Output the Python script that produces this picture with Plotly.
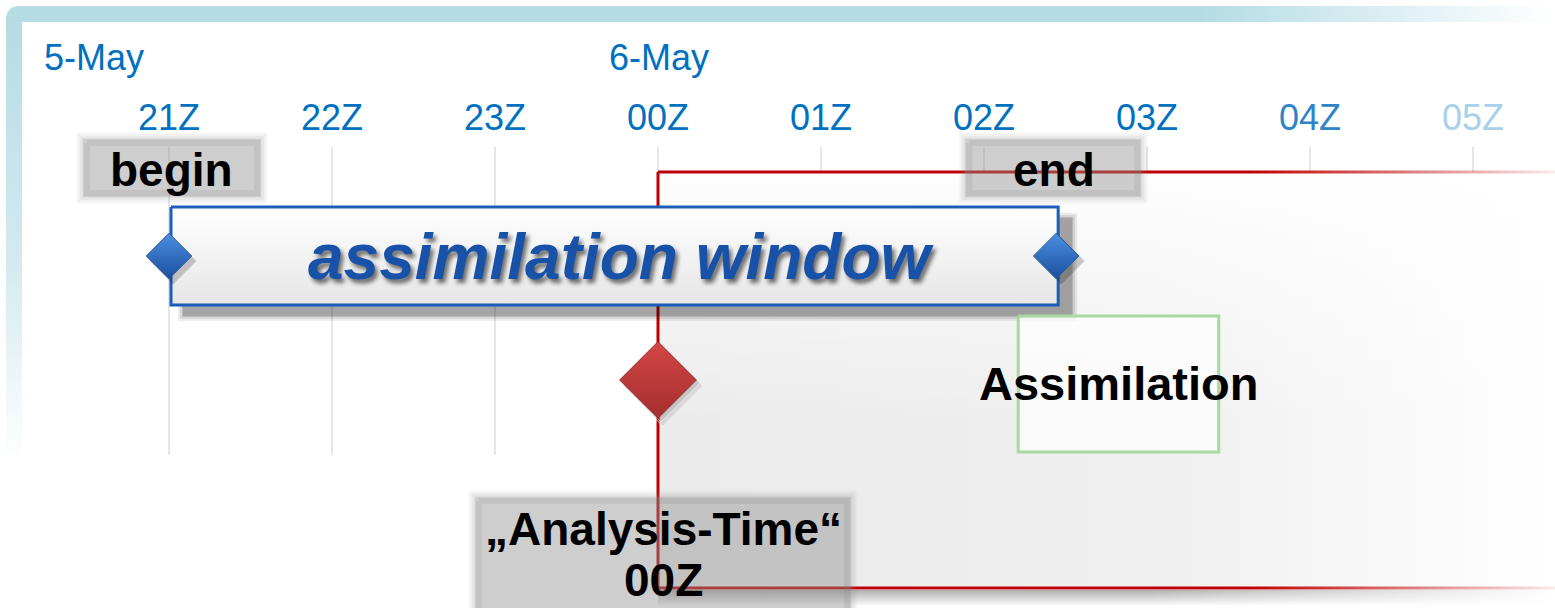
import plotly.graph_objects as go

# time axis in hours relative to the analysis time (00Z, 6 May)
HOURS = [-3, -2, -1, 0, 1, 2, 3, 4, 5]
HOUR_LABELS = ["21Z", "22Z", "23Z", "00Z", "01Z", "02Z", "03Z", "04Z", "05Z"]
DATE_LABELS = ["5-May", "6-May"]
DATE_HOURS = [-3.78, -0.31]

WINDOW_BEGIN = -3.0
WINDOW_END = 2.455
ANALYSIS_TIME = 0.0
ANALYSIS_LABEL = ["\u201eAnalysis-Time\u201c", "00Z"]
ASSIM_START = 2.21
ASSIM_END = 3.44

WIDTH, HEIGHT = 1555, 608
PX_PER_HOUR = 163.0
ZERO_PX = 658.0
X_RANGE = [-ZERO_PX / PX_PER_HOUR, (WIDTH - ZERO_PX) / PX_PER_HOUR]

BLUE = "#0070C0"
RED = "#C00000"
FRAME = "#B5DCE5"
FONT = "Liberation Sans, Arial, sans-serif"
HOUR_COLORS = [BLUE] * 7 + ["#2F84C8", "#A9D0EA"]


def px(n):
    """pixel length -> hours"""
    return n / PX_PER_HOUR


def at(xp):
    """pixel column -> hours"""
    return (xp - ZERO_PX) / PX_PER_HOUR


def rect(x0, x1, y0, y1):
    return [x0, x1, x1, x0, x0], [y0, y0, y1, y1, y0]


def solid(x0, x1, y0, y1, color):
    xs, ys = rect(x0, x1, y0, y1)
    return go.Scatter(x=xs, y=ys, fill="toself", fillcolor=color, mode="none",
                      hoverinfo="skip", showlegend=False)


def outline(x0, x1, y0, y1, color, width):
    xs, ys = rect(x0, x1, y0, y1)
    return go.Scatter(x=xs, y=ys, mode="lines", line=dict(color=color, width=width),
                      hoverinfo="skip", showlegend=False)


def gradient(xs, ys, kind, scale, start, stop):
    return go.Scatter(x=xs, y=ys, fill="toself", mode="none",
                      fillgradient=dict(type=kind, colorscale=scale, start=start, stop=stop),
                      hoverinfo="skip", showlegend=False)


def soft_box(xc, half_w, y0, y1):
    # blurred grey plate: soft halo, light core, darker rim
    out = []
    for grow, alpha in [(7, 0.05), (5, 0.07), (3, 0.09), (1, 0.1)]:
        out.append(solid(xc - half_w - px(grow), xc + half_w + px(grow),
                         y0 - grow, y1 + grow, f"rgba(140,140,140,{alpha})"))
    out.append(solid(xc - half_w, xc + half_w, y0, y1, "rgba(150,150,150,0.22)"))
    out.append(outline(xc - half_w + px(4), xc + half_w - px(4), y0 + 4, y1 - 4,
                       "rgba(120,120,120,0.14)", 6))
    return out


traces = []

# light blue frame, rounded outer corner top-left
corner = [(6, 22), (6, 18), (7, 13), (9.5, 9.5), (13, 7), (18, 6), (WIDTH, 6), (WIDTH, 22), (6, 22)]
traces.append(gradient([at(p[0]) for p in corner], [p[1] for p in corner], "horizontal",
                       [[0, FRAME], [1, "#ffffff"]], at(1200), X_RANGE[1]))
xs, ys = rect(at(6), at(22), 21, 462)
traces.append(gradient(xs, ys, "vertical",
                       [[0, FRAME], [0.55, "#d3eaf0"], [1, "#ffffff"]], 21, 462))

# hour grid
gx, gy = [], []
for h in HOURS:
    gx += [h, h, None]
    gy += [147, 455, None]
traces.append(go.Scatter(x=gx, y=gy, mode="lines", line=dict(color="#dedede", width=1.5),
                         hoverinfo="skip", showlegend=False))

# shaded period after the analysis time
xs, ys = rect(ANALYSIS_TIME, X_RANGE[1], 172, 588)
traces.append(gradient(xs, ys, "horizontal",
                       [[0, "#ebebeb"], [0.55, "#efefef"], [1, "#ffffff"]], ANALYSIS_TIME, X_RANGE[1]))
traces.append(gradient(xs, ys, "vertical",
                       [[0, "rgba(255,255,255,0.92)"], [0.6, "rgba(255,255,255,0)"],
                        [1, "rgba(255,255,255,0)"]], 172, 588))
xs, ys = rect(ANALYSIS_TIME, X_RANGE[1], 590, 606)
traces.append(gradient(xs, ys, "vertical",
                       [[0, "rgba(110,110,110,0.55)"], [1, "rgba(110,110,110,0)"]], 590, 606))
xs, ys = rect(at(1150), X_RANGE[1], 590, 608)
traces.append(gradient(xs, ys, "horizontal",
                       [[0, "rgba(255,255,255,0)"], [1, "rgba(255,255,255,1)"]], at(1150), X_RANGE[1]))

# analysis time lines
traces.append(go.Scatter(x=[ANALYSIS_TIME, ANALYSIS_TIME], y=[172, 588], mode="lines",
                         line=dict(color=RED, width=3), hoverinfo="skip", showlegend=False))
for yl in (172, 588):
    xs, ys = rect(ANALYSIS_TIME, X_RANGE[1], yl - 1.5, yl + 1.5)
    traces.append(gradient(xs, ys, "horizontal",
                           [[0, RED], [0.66, RED], [1, "rgba(192,0,0,0.08)"]], ANALYSIS_TIME, X_RANGE[1]))

# assimilation window box with shadow
for grow, alpha in [(5, 0.07), (3, 0.09), (1, 0.12), (0, 0.12)]:
    traces.append(solid(WINDOW_BEGIN + px(14 - grow), WINDOW_END + px(14 + grow),
                        218 - grow, 316 + grow, f"rgba(0,0,0,{alpha})"))
xs, ys = rect(WINDOW_BEGIN + px(2), WINDOW_END, 207, 305)
traces.append(gradient(xs, ys, "vertical", [[0, "#ffffff"], [1, "#e6e6e6"]], 207, 305))
traces.append(outline(WINDOW_BEGIN + px(2), WINDOW_END, 207, 305, "#1A5EB8", 3))

# assimilation step
traces.append(solid(ASSIM_START, ASSIM_END, 316, 452, "rgba(255,255,255,0.7)"))
traces.append(outline(ASSIM_START, ASSIM_END, 316, 452, "#A9D8A2", 3))

# diamonds
traces.append(go.Scatter(x=[WINDOW_BEGIN + px(4), WINDOW_END + px(3)], y=[261, 261], mode="markers",
                         marker=dict(symbol="diamond", size=36, color="rgba(0,0,0,0.2)"),
                         hoverinfo="skip", showlegend=False))
traces.append(go.Scatter(x=[WINDOW_BEGIN, WINDOW_END - px(2)], y=[256, 256], mode="markers",
                         marker=dict(symbol="diamond", size=35, color="#4A8FE2",
                                     gradient=dict(type="vertical", color="#1C4F9E"),
                                     line=dict(color="#2A5AA0", width=1)),
                         hoverinfo="skip", showlegend=False))
traces.append(go.Scatter(x=[ANALYSIS_TIME + px(3), ANALYSIS_TIME + px(5)], y=[383, 386], mode="markers",
                         marker=dict(symbol="diamond", size=[60, 62], color="rgba(0,0,0,0.12)"),
                         hoverinfo="skip", showlegend=False))
traces.append(go.Scatter(x=[ANALYSIS_TIME], y=[380], mode="markers",
                         marker=dict(symbol="diamond", size=59, color="#D44646",
                                     gradient=dict(type="vertical", color="#A42E2E"),
                                     line=dict(color="#8E2A2A", width=1)),
                         hoverinfo="skip", showlegend=False))

# grey label plates
traces += soft_box(WINDOW_BEGIN + px(3), px(89), 139, 197)
traces += soft_box(WINDOW_END - px(5), px(88), 139, 197)
traces += soft_box(ANALYSIS_TIME + px(5), px(188), 497, 620)

fig = go.Figure(data=traces)

annotations = []
for label, h in zip(DATE_LABELS, DATE_HOURS):
    annotations.append(dict(x=h, y=57, text=label, xanchor="left", yanchor="middle",
                            font=dict(family=FONT, size=36, color=BLUE)))
for label, h, c in zip(HOUR_LABELS, HOURS, HOUR_COLORS):
    annotations.append(dict(x=h, y=117, text=label, xanchor="center", yanchor="middle",
                            font=dict(family=FONT, size=36, color=c)))
for label, h in [("begin", WINDOW_BEGIN + px(2)), ("end", WINDOW_END - px(4))]:
    annotations.append(dict(x=h, y=170, text=label, xanchor="center", yanchor="middle",
                            font=dict(family=FONT, size=46, color="black", weight="bold")))
annotations.append(dict(x=(WINDOW_BEGIN + WINDOW_END) / 2 + px(8), y=257, text="assimilation window",
                        xanchor="center", yanchor="middle",
                        font=dict(family=FONT, size=64, color="#1751A8", weight="bold",
                                  style="italic", shadow="3px 4px 4px rgba(0,0,0,0.55)")))
annotations.append(dict(x=(ASSIM_START + ASSIM_END) / 2, y=383, text="Assimilation",
                        xanchor="center", yanchor="middle",
                        font=dict(family=FONT, size=47, color="black", weight="bold")))
annotations.append(dict(x=ANALYSIS_TIME + px(5), y=529, text=ANALYSIS_LABEL[0],
                        xanchor="center", yanchor="middle",
                        font=dict(family=FONT, size=46, color="black", weight="bold")))
annotations.append(dict(x=ANALYSIS_TIME + px(5), y=HEIGHT, text=ANALYSIS_LABEL[1],
                        xanchor="center", yanchor="bottom",
                        font=dict(family=FONT, size=46, color="black", weight="bold")))
for a in annotations:
    a.update(xref="x", yref="y", showarrow=False)

fig.update_layout(
    width=WIDTH,
    height=HEIGHT,
    margin=dict(l=0, r=0, t=0, b=0),
    paper_bgcolor="white",
    plot_bgcolor="white",
    showlegend=False,
    xaxis=dict(range=X_RANGE, visible=False, fixedrange=True),
    yaxis=dict(range=[HEIGHT, 0], visible=False, fixedrange=True),
    annotations=annotations,
)

# drop the browser's default 8px body margin so the diagram sits flush
fig.write_html("out.html", post_script="document.body.style.margin = '0';",
               config={"displayModeBar": False})
